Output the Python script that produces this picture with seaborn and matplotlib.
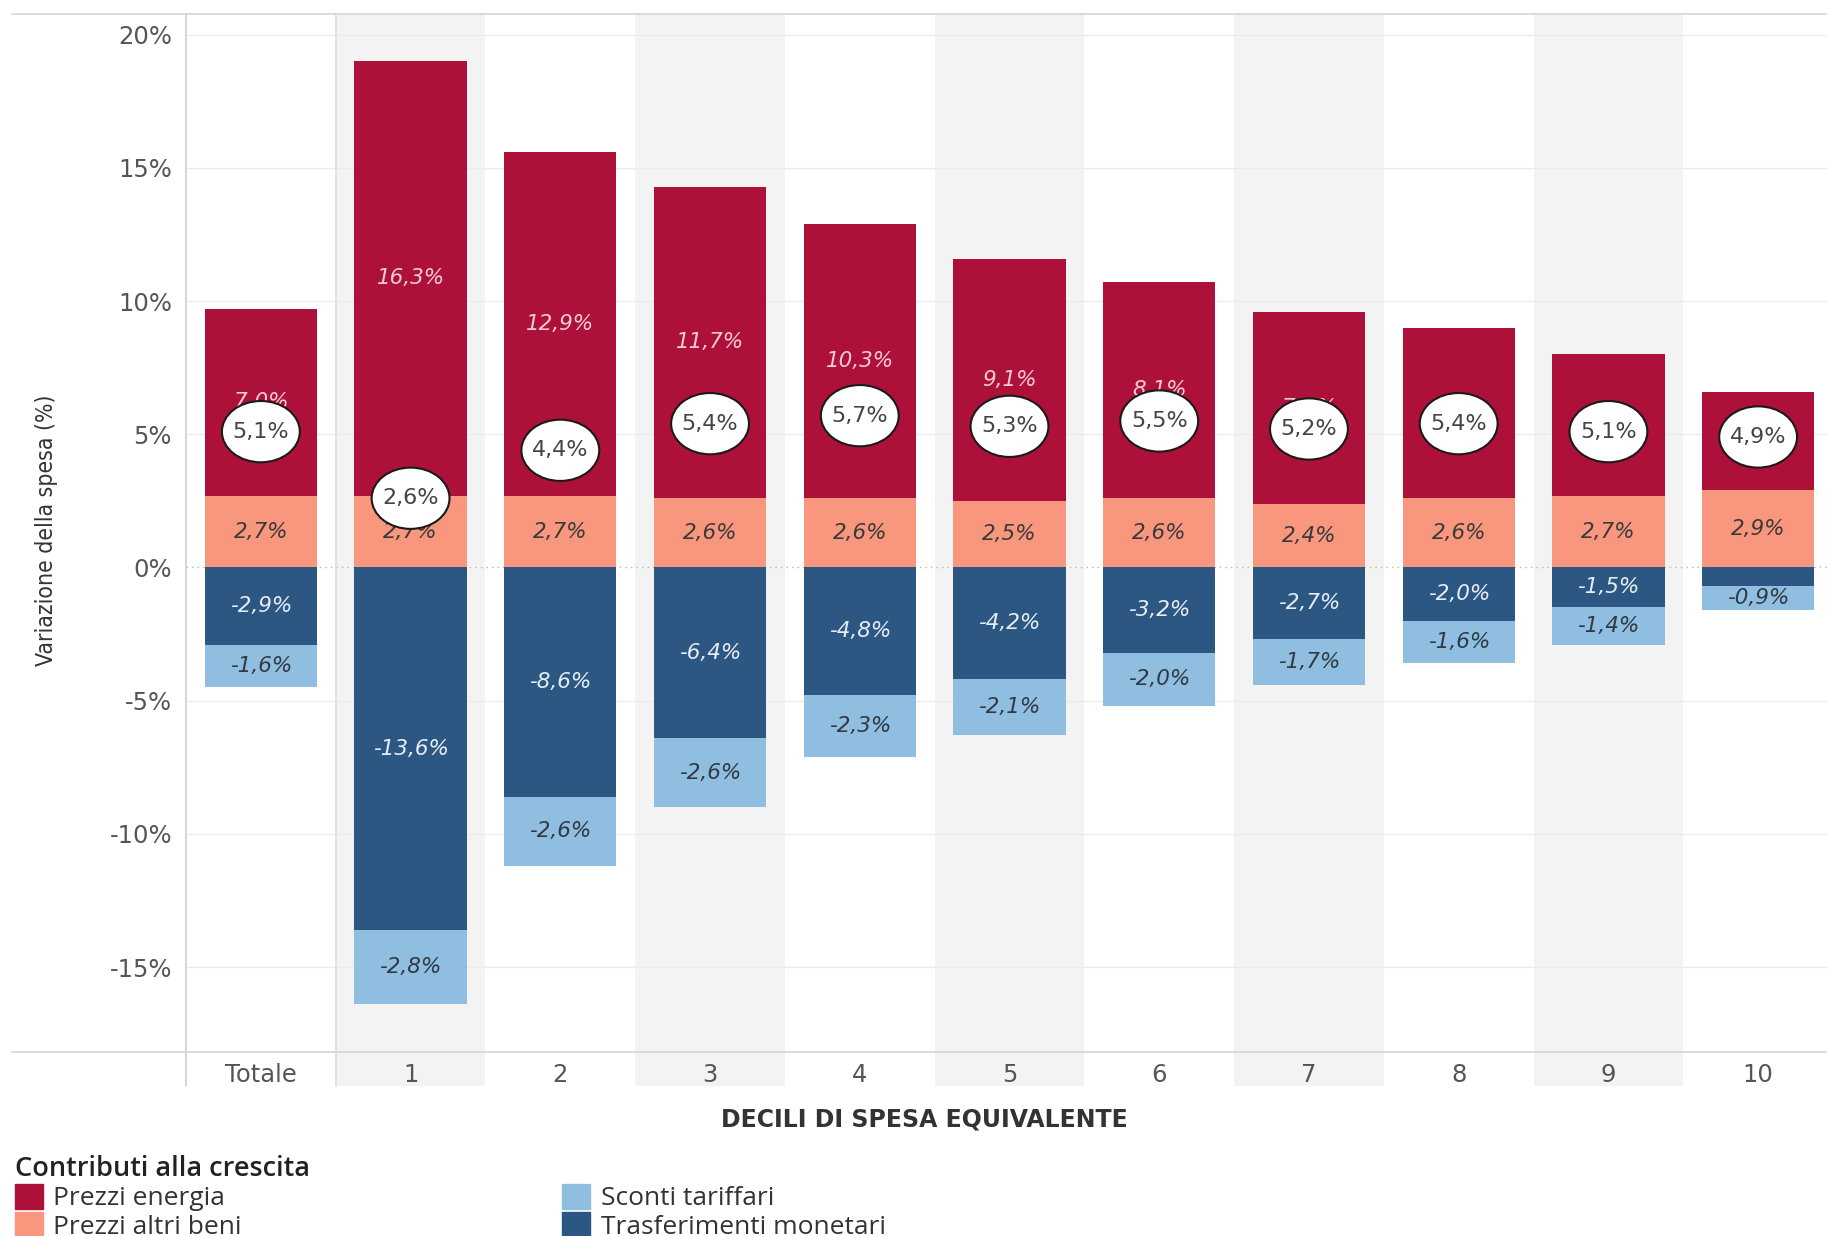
import numpy as np
import pandas as pd
import seaborn as sns
import matplotlib.pyplot as plt
from matplotlib.patches import Ellipse, Patch

# dati
categorie = ['Totale', '1', '2', '3', '4', '5', '6', '7', '8', '9', '10']
prezzi_energia = [7.0, 16.3, 12.9, 11.7, 10.3, 9.1, 8.1, 7.2, 6.4, 5.3, 3.7]
prezzi_altri = [2.7, 2.7, 2.7, 2.6, 2.6, 2.5, 2.6, 2.4, 2.6, 2.7, 2.9]
trasferimenti = [-2.9, -13.6, -8.6, -6.4, -4.8, -4.2, -3.2, -2.7, -2.0, -1.5, -0.7]
sconti = [-1.6, -2.8, -2.6, -2.6, -2.3, -2.1, -2.0, -1.7, -1.6, -1.4, -0.9]
variazione_netta = [5.1, 2.6, 4.4, 5.4, 5.7, 5.3, 5.5, 5.2, 5.4, 5.1, 4.9]
y_ticks = [-15, -10, -5, 0, 5, 10, 15, 20]

col_energia = '#ad1038'
col_altri = '#f8977d'
col_trasf = '#2b5782'
col_sconti = '#8fbee0'

sns.set_style('white')
plt.rcParams['font.family'] = ['DejaVu Sans']


def pct(v):
    return f"{v:.1f}%".replace('.', ',')


df = pd.DataFrame({
    'decile': categorie,
    'energia': prezzi_energia,
    'altri': prezzi_altri,
    'trasf': trasferimenti,
    'sconti': sconti,
    'netta': variazione_netta,
})
df['pos_tot'] = df['altri'] + df['energia']
df['neg_tot'] = df['trasf'] + df['sconti']

fig = plt.figure(figsize=(18.27, 12.36), dpi=100)
ax = fig.add_axes([186 / 1827, 1 - 1052 / 1236, 1641 / 1827, 1038 / 1236])

# colonne alternate grigie
for i in [1, 3, 5, 7, 9]:
    ax.axvspan(i - 0.5, i + 0.5, ymin=-0.033, ymax=1, color='#f3f3f3',
               zorder=0, clip_on=False, lw=0)

# griglia
for t in y_ticks:
    if t == 0:
        ax.axhline(0, color='#b5b5b5', lw=1, ls=(0, (1, 3)), zorder=0.5)
    else:
        ax.axhline(t, color='#ebebeb', lw=1, zorder=0.5)

# barre sovrapposte (stack)
kw = dict(order=categorie, width=0.75, errorbar=None, saturation=1, ax=ax, zorder=2,
          linewidth=0, edgecolor='none')
sns.barplot(data=df, x='decile', y='pos_tot', color=col_energia, **kw)
sns.barplot(data=df, x='decile', y='altri', color=col_altri, **kw)
sns.barplot(data=df, x='decile', y='neg_tot', color=col_sconti, **kw)
sns.barplot(data=df, x='decile', y='trasf', color=col_trasf, **kw)

# etichette dei segmenti
lab_kw = dict(ha='center', va='center', fontsize=15.5, style='italic', zorder=4)
for i, r in df.iterrows():
    y_en = r['altri'] + r['energia'] / 2
    # etichetta nascosta se coperta dall'ovale
    if abs(y_en - r['netta']) > 0.6:
        ax.text(i, y_en, pct(r['energia']), color='#f5cbd6', **lab_kw)
    ax.text(i, r['altri'] / 2, pct(r['altri']), color='#3a3a3a', **lab_kw)
    if abs(r['trasf']) >= 1:
        ax.text(i, r['trasf'] / 2, pct(r['trasf']), color='#e6edf5', **lab_kw)
    ax.text(i, r['trasf'] + r['sconti'] / 2, pct(r['sconti']), color='#2f3a45', **lab_kw)
    # variazione netta
    ax.add_patch(Ellipse((i, r['netta']), width=0.52, height=2.3, facecolor='white',
                         edgecolor='#1a1a1a', lw=1.5, zorder=5))
    ax.text(i, r['netta'], pct(r['netta']), ha='center', va='center', fontsize=16,
            color='#444444', zorder=6)

ax.set_xlim(-0.5, 10.46)
ax.set_ylim(-18.19, 20.78)
ax.set_yticks(y_ticks)
ax.set_yticklabels([f'{t}%' for t in y_ticks], fontsize=17.5, color='#555555')
ax.set_xticks(range(len(categorie)))
ax.set_xticklabels(categorie, fontsize=17.5, color='#555555')
ax.tick_params(axis='both', length=0)
ax.tick_params(axis='y', pad=10)
ax.tick_params(axis='x', pad=8)
ax.set_xlabel('')
ax.set_ylabel('')
for s in ax.spines.values():
    s.set_visible(False)

# linee di cornice
ax.plot([-0.106, 1], [1, 1], transform=ax.transAxes, color='#d4d4d4', lw=1.2, clip_on=False)
ax.plot([-0.106, 1], [0, 0], transform=ax.transAxes, color='#d4d4d4', lw=1.2, clip_on=False)
ax.plot([0, 0], [-0.033, 1], transform=ax.transAxes, color='#cfcfcf', lw=1.2, clip_on=False)
ax.plot([0.5, 0.5], [-0.033, 1], transform=ax.get_xaxis_transform(), color='#dcdcdc',
        lw=1.2, clip_on=False)

fig.text(47 / 1827, 1 - 530 / 1236, 'Variazione della spesa (%)', rotation=90,
         ha='center', va='center', fontsize=16.5, color='#333333',
         family='DejaVu Sans', fontstretch='condensed')
fig.text(924 / 1827, 1 - 1119 / 1236, 'DECILI DI SPESA EQUIVALENTE', ha='center',
         va='center', fontsize=17, fontweight='bold', color='#333333')

handles = [Patch(color=col_energia), Patch(color=col_altri),
           Patch(color=col_sconti), Patch(color=col_trasf)]
labels = ['Prezzi energia', 'Prezzi altri beni', 'Sconti tariffari', 'Trasferimenti monetari']
leg = fig.legend(handles, labels, loc='upper left', bbox_to_anchor=(15 / 1827, 1 - 1155 / 1236),
                 ncol=2, frameon=False, title='Contributi alla crescita', alignment='left',
                 prop={'family': 'Open Sans', 'size': 19}, handlelength=1.05, handleheight=1.05,
                 handletextpad=0.4, labelspacing=0.04, columnspacing=12.15, borderpad=0,
                 borderaxespad=0)
leg.get_title().set_fontsize(19.5)
leg.get_title().set_fontfamily('Open Sans')
leg.get_title().set_fontweight('semibold')
leg.get_title().set_color('#222222')
for t in leg.get_texts():
    t.set_color('#333333')

fig.savefig('out.png', dpi=100)
